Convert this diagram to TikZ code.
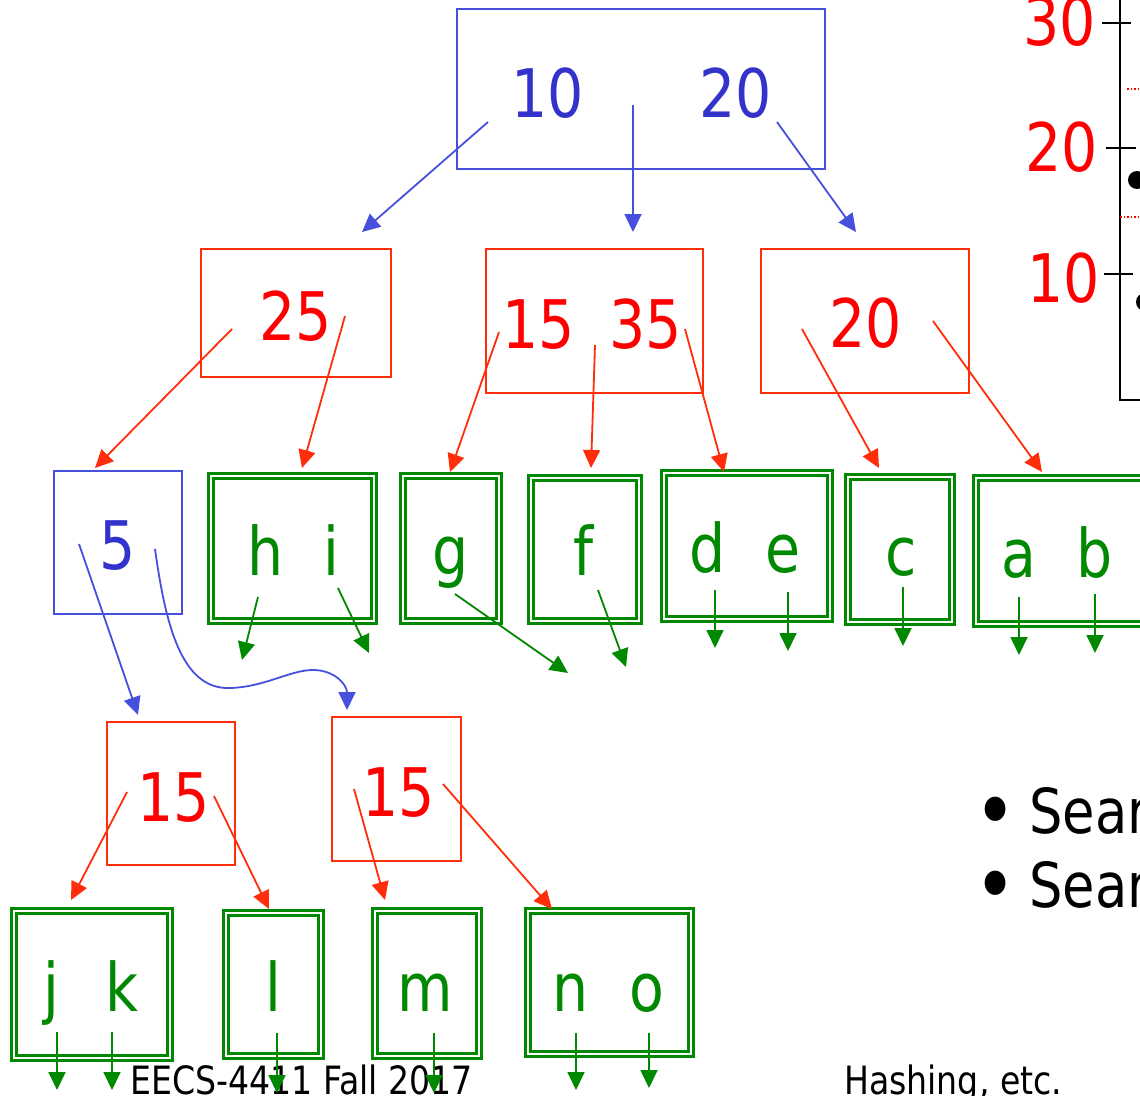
\documentclass[tikz,border=0pt]{standalone}
\usepackage{fontspec}
\setmainfont{DejaVu Sans}[FakeStretch=0.85]
\usetikzlibrary{arrows.meta, positioning}

\definecolor{keyblue}{RGB}{51,51,204}
\definecolor{lineblue}{RGB}{70,80,220}
\definecolor{keyred}{RGB}{255,0,0}
\definecolor{linered}{RGB}{255,45,10}
\definecolor{leafgreen}{RGB}{0,136,0}

\newcommand{\keyfont}{\fontsize{67}{70}\selectfont}
\newcommand{\footfont}{\fontsize{39}{41}\selectfont}
\newcommand{\itemfont}{\fontsize{62}{66}\selectfont}
\newcommand{\bigdot}{\smash{\raisebox{-7pt}{\fontsize{84}{84}\selectfont •}}}

\tikzset{
  bluebox/.style={draw=lineblue, line width=2pt, inner sep=0pt, outer sep=0pt},
  redbox/.style={draw=linered, line width=2pt, inner sep=0pt, outer sep=0pt},
  leafbox/.style={draw=leafgreen, double=white, double distance=2.4pt,
                  line width=2.4pt, inner sep=0pt, outer sep=0pt},
  keytext/.style={font=\keyfont, inner sep=0pt, anchor=base},
  bluekey/.style={keytext, text=keyblue},
  redkey/.style={keytext, text=keyred},
  leafkey/.style={keytext, text=leafgreen},
  tip/.style={-{Triangle[length=18pt, width=17pt]}},
  barrow/.style={tip, draw=lineblue, fill=lineblue, line width=1.8pt},
  rarrow/.style={tip, draw=linered, fill=linered, line width=1.8pt},
  garrow/.style={tip, draw=leafgreen, fill=leafgreen, line width=1.8pt},
}

\begin{document}
\begin{tikzpicture}[x=1pt, y=-1pt]
  \useasboundingbox (0,0) rectangle (1140,1095);
  \clip (0,0) rectangle (1140,1095);

  % root
  \node[bluebox, minimum width=368, minimum height=160] (root) at (641,89) {};
  \node[bluekey] (k10) at (548,117) {10};
  \node[bluekey] (k20) at (735.5,117) {20};

  % second level
  \node[redbox, minimum width=190, minimum height=128] (n25) at (296,313) {};
  \node[redkey] (k25) at (295.5,340) {25};
  \node[redbox, minimum width=217, minimum height=144] (n1535) at (594.5,321) {};
  \node[redkey] (k15a) at (539,348) {15};
  \node[redkey] (k35) at (645.5,348) {35};
  \node[redbox, minimum width=208, minimum height=144] (n20) at (865,321) {};
  \node[redkey] (k20b) at (866,347) {20};

  % third level
  \node[bluebox, minimum width=128, minimum height=143] (n5) at (118,542.5) {};
  \node[bluekey] (k5) at (118,569) {5};
  \node[leafbox, minimum width=163, minimum height=145] (lhi) at (292.5,548.5) {};
  \node[leafkey] (lh) at (265.5,575) {h};
  \node[leafkey] (li) at (331,575) {i};
  \node[leafbox, minimum width=96, minimum height=145] (lg) at (451,548.5) {};
  \node[leafkey] (lgg) at (451,574) {g};
  \node[leafbox, minimum width=108, minimum height=143] (lf) at (585,549.5) {};
  \node[leafkey] (lff) at (584,575) {f};
  \node[leafbox, minimum width=166, minimum height=146] (lde) at (747,546) {};
  \node[leafkey] (ld) at (707.5,572) {d};
  \node[leafkey] (le) at (783.5,572) {e};
  \node[leafbox, minimum width=104, minimum height=145] (lc) at (900,549.5) {};
  \node[leafkey] (lcc) at (901,575) {c};
  \node[leafbox, minimum width=184, minimum height=146] (lab) at (1068,551) {};
  \node[leafkey] (la) at (1018.5,577) {a};
  \node[leafkey] (lb) at (1095,577) {b};

  % fourth level
  \node[redbox, minimum width=128, minimum height=143] (n15l) at (171,793.5) {};
  \node[redkey] (k15b) at (173.5,821) {15};
  \node[redbox, minimum width=129, minimum height=144] (n15r) at (396.5,789) {};
  \node[redkey] (k15c) at (399,816) {15};

  % bottom leaves
  \node[leafbox, minimum width=156, minimum height=147] (ljk) at (92,984.5) {};
  \node[leafkey] (lj) at (51,1011) {j};
  \node[leafkey] (lk) at (122,1011) {k};
  \node[leafbox, minimum width=95, minimum height=143] (ll) at (273.5,984.5) {};
  \node[leafkey] (lll) at (273.5,1011) {l};
  \node[leafbox, minimum width=104, minimum height=145] (lm) at (427,983.5) {};
  \node[leafkey] (lmm) at (425,1011) {m};
  \node[leafbox, minimum width=163, minimum height=143] (lno) at (609.5,982.5) {};
  \node[leafkey] (ln) at (571,1011) {n};
  \node[leafkey] (lo) at (647,1011) {o};

  % footer
  \node[font=\footfont, inner sep=0pt, anchor=base west] (foot) at (130,1094) {EECS-4411 Fall 2017};
  \node[font=\footfont, inner sep=0pt, anchor=base west] (topic) at (844,1094) {Hashing, etc.};

  % bullets
  \node[font=\itemfont, inner sep=0pt, anchor=base west] (item1) at (974,833) {\bigdot\hspace{13pt}Sear};
  \node[font=\itemfont, inner sep=0pt, anchor=base west] (item2) at (974,907) {\bigdot\hspace{13pt}Sear};

  % axis at the right
  \draw[line width=2pt] (1120,0) -- (1120,400) -- (1150,400);
  \draw[line width=2pt] (1102,22.7) -- (1131,22.7);
  \draw[line width=2pt] (1106,148) -- (1136,148);
  \draw[line width=2pt] (1104,274) -- (1133,274);
  \draw[keyred, line width=1.5pt, dotted] (1127,89) -- (1145,89);
  \draw[keyred, line width=1.5pt, dotted] (1120,217) -- (1145,217);
  \fill (1137,180) circle[radius=9pt];
  \fill (1145,302) circle[radius=9pt];
  \node[keytext, text=keyred, anchor=base east] (ax30) at (1096,45) {30};
  \node[keytext, text=keyred, anchor=base east] (ax20) at (1098,171) {20};
  \node[keytext, text=keyred, anchor=base east] (ax10) at (1100,302) {10};

  % connector ends
  \coordinate (p10) at (488,122);  \coordinate (q10) at (362,232);
  \coordinate (pmid) at (633,105); \coordinate (qmid) at (633,232);
  \coordinate (p20) at (777,122);  \coordinate (q20) at (856,232);
  \coordinate (p25l) at (232,329); \coordinate (q25l) at (95,468);
  \coordinate (p25r) at (345,316); \coordinate (q25r) at (302,468);
  \coordinate (p15) at (499,332);  \coordinate (q15) at (450,472);
  \coordinate (p1535) at (595,345); \coordinate (q1535) at (591,468);
  \coordinate (p35) at (685,329);  \coordinate (q35) at (724,472);
  \coordinate (p20l) at (802,329); \coordinate (q20l) at (879,468);
  \coordinate (p20r) at (933,321); \coordinate (q20r) at (1042,472);
  \coordinate (p5l) at (79,544);   \coordinate (q5l) at (138,715);
  \coordinate (p5r) at (155,549);  \coordinate (q5r) at (347,710);
  \coordinate (pDl) at (127,792);  \coordinate (qDl) at (71,900);
  \coordinate (pDr) at (214,796);  \coordinate (qDr) at (269,909);
  \coordinate (pEl) at (354,789);  \coordinate (qEl) at (385,900);
  \coordinate (pEr) at (443,784);  \coordinate (qEr) at (552,909);

  % blue pointers
  \draw[barrow] (p10) -- (q10);
  \draw[barrow] (pmid) -- (qmid);
  \draw[barrow] (p20) -- (q20);
  \draw[barrow] (p5l) -- (q5l);
  \draw[barrow, fill=none] (p5r) .. controls (165,620) and (180,690) .. (230,688)
    .. controls (265,687) and (290,670) .. (313,670)
    .. controls (335,670) and (347,685) .. (q5r);

  % red pointers
  \draw[rarrow] (p25l) -- (q25l);
  \draw[rarrow] (p25r) -- (q25r);
  \draw[rarrow] (p15) -- (q15);
  \draw[rarrow] (p1535) -- (q1535);
  \draw[rarrow] (p35) -- (q35);
  \draw[rarrow] (p20l) -- (q20l);
  \draw[rarrow] (p20r) -- (q20r);
  \draw[rarrow] (pDl) -- (qDl);
  \draw[rarrow] (pDr) -- (qDr);
  \draw[rarrow] (pEl) -- (qEl);
  \draw[rarrow] (pEr) -- (qEr);

  % green leaf pointers
  \coordinate (ph) at (258,597);  \coordinate (qh) at (242,660);
  \coordinate (pi) at (338,588);  \coordinate (qi) at (369,653);
  \coordinate (pg) at (455,594);  \coordinate (qg) at (568,673);
  \coordinate (pf) at (598,590);  \coordinate (qf) at (626,667);
  \coordinate (pd) at (715,590);  \coordinate (qd) at (715,648);
  \coordinate (pe) at (788,592);  \coordinate (qe) at (788,651);
  \coordinate (pc) at (903,587);  \coordinate (qc) at (903,646);
  \coordinate (pa) at (1019,597); \coordinate (qa) at (1019,655);
  \coordinate (pb) at (1095,594); \coordinate (qb) at (1095,653);
  \coordinate (pj) at (57,1032);  \coordinate (qj) at (57,1090);
  \coordinate (pk) at (112,1032); \coordinate (qk) at (112,1090);
  \coordinate (pl) at (277,1033); \coordinate (ql) at (277,1093);
  \coordinate (pm) at (434,1033); \coordinate (qm) at (434,1093);
  \coordinate (pn) at (576,1033); \coordinate (qn) at (576,1090);
  \coordinate (po) at (649,1033); \coordinate (qo) at (649,1088);
  \draw[garrow] (ph) -- (qh);
  \draw[garrow] (pi) -- (qi);
  \draw[garrow] (pg) -- (qg);
  \draw[garrow] (pf) -- (qf);
  \draw[garrow] (pd) -- (qd);
  \draw[garrow] (pe) -- (qe);
  \draw[garrow] (pc) -- (qc);
  \draw[garrow] (pa) -- (qa);
  \draw[garrow] (pb) -- (qb);
  \draw[garrow] (pj) -- (qj);
  \draw[garrow] (pk) -- (qk);
  \draw[garrow] (pl) -- (ql);
  \draw[garrow] (pm) -- (qm);
  \draw[garrow] (pn) -- (qn);
  \draw[garrow] (po) -- (qo);
\end{tikzpicture}
\end{document}
